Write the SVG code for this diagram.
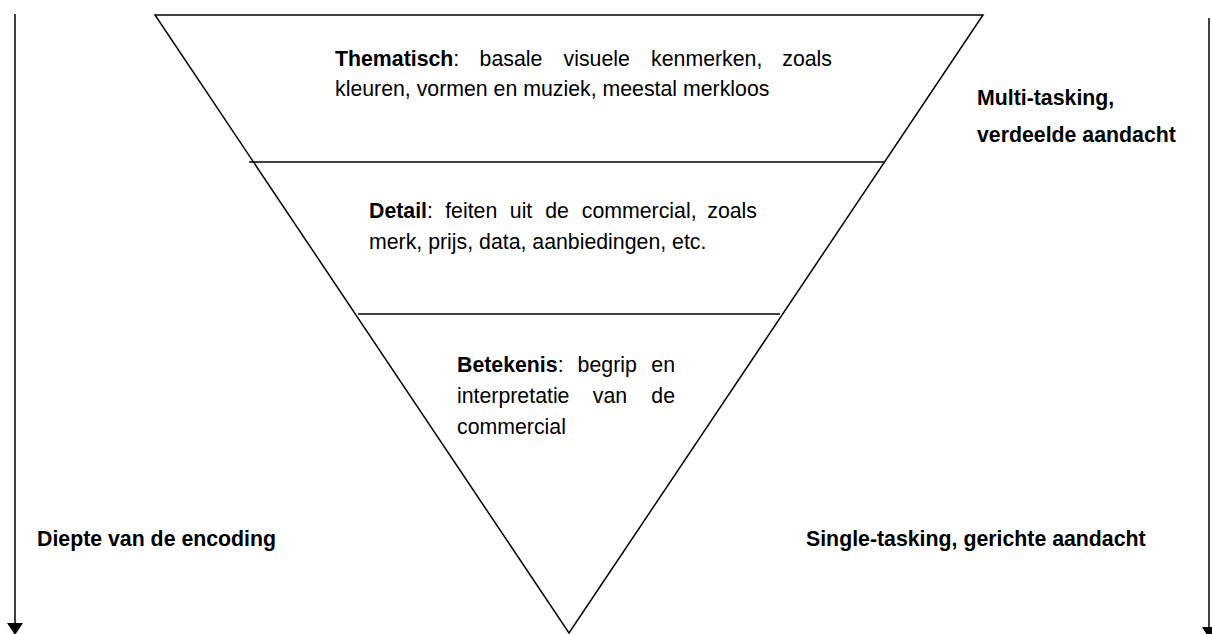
<svg xmlns="http://www.w3.org/2000/svg" width="1212" height="634" viewBox="0 0 1212 634">
<style>
text{font-family:"Liberation Sans",Arial,sans-serif;font-size:21.3px;fill:#000}
.b{font-weight:bold}
.ln{stroke:#000;stroke-width:1.5;fill:none}
</style>
<rect width="1212" height="634" fill="#fff"/>
<g id="connectors">
<line class="ln" x1="15" y1="14" x2="15" y2="623"/>
<path d="M7,623 L23,623 L15,635 Z" fill="#000"/>
<line class="ln" x1="1209" y1="18" x2="1209" y2="627"/>
<path d="M1202,627 L1216,627 L1209,638 Z" fill="#000"/>
</g>
<g id="funnel">
<polygon class="ln" points="155,15 983,15 569,633"/>
<line class="ln" x1="249" y1="162" x2="884" y2="162"/>
<line class="ln" x1="358" y1="314" x2="780" y2="314"/>
</g>
<g id="thematisch">
<text y="66"><tspan x="335" class="b">Thematisch</tspan><tspan>:</tspan></text>
<text y="66" x="479.6">basale</text>
<text y="66" x="563.6">visuele</text>
<text y="66" x="651.1">kenmerken,</text>
<text y="66" x="832" text-anchor="end">zoals</text>
<text y="96" x="335">kleuren, vormen en muziek, meestal merkloos</text>
</g>
<g id="detail">
<text y="218"><tspan x="369" class="b">Detail</tspan><tspan>:</tspan></text>
<text y="218" x="445.2">feiten</text>
<text y="218" x="509.8">uit</text>
<text y="218" x="545.2">de</text>
<text y="218" x="581.8">commercial,</text>
<text y="218" x="757" text-anchor="end">zoals</text>
<text y="249" x="369">merk, prijs, data, aanbiedingen, etc.</text>
</g>
<g id="betekenis">
<text y="372"><tspan x="457" class="b">Betekenis</tspan><tspan>:</tspan></text>
<text y="372" x="577.6">begrip</text>
<text y="372" x="675" text-anchor="end">en</text>
<text y="403" x="457">interpretatie</text>
<text y="403" x="592.8">van</text>
<text y="403" x="675" text-anchor="end">de</text>
<text y="434" x="457">commercial</text>
</g>
<g id="multitasking">
<text class="b" x="977" y="105">Multi-tasking,</text>
<text class="b" x="977" y="142">verdeelde aandacht</text>
</g>
<g id="diepte">
<text class="b" x="37" y="546">Diepte van de encoding</text>
</g>
<g id="singletasking">
<text class="b" x="806" y="546">Single-tasking, gerichte aandacht</text>
</g>
</svg>
